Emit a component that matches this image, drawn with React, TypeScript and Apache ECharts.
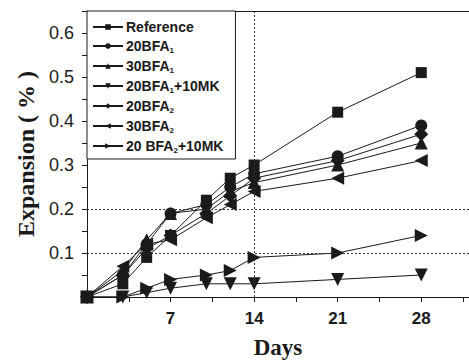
import React, { useEffect, useRef } from "react";
import * as echarts from "echarts";

const days = [0, 3, 5, 7, 10, 12, 14, 21, 28];
const reference = [0, 0.03, 0.09, 0.14, 0.22, 0.27, 0.3, 0.42, 0.51];
const bfa20_1 = [0, 0.05, 0.12, 0.19, 0.21, 0.25, 0.28, 0.32, 0.39];
const bfa30_1 = [0, 0.06, 0.13, 0.19, 0.2, 0.24, 0.26, 0.3, 0.35];
const bfa20_1mk = [0, 0, 0.01, 0.02, 0.03, 0.03, 0.03, 0.04, 0.05];
const bfa20_2 = [0, 0.05, 0.11, 0.14, 0.19, 0.23, 0.27, 0.31, 0.37];
const bfa30_2 = [0, 0.07, 0.12, 0.13, 0.18, 0.21, 0.24, 0.27, 0.31];
const bfa20_2mk = [0, 0, 0.02, 0.04, 0.05, 0.06, 0.09, 0.1, 0.14];

const seriesDefs = [
  { name: "Reference", data: reference, symbol: "rect", rotate: 0, size: 11 },
  { name: "20BFA{s|1}", data: bfa20_1, symbol: "circle", rotate: 0, size: 12 },
  { name: "30BFA{s|1}", data: bfa30_1, symbol: "triangle", rotate: 0, size: 13 },
  { name: "20BFA{s|1}+10MK", data: bfa20_1mk, symbol: "triangle", rotate: 180, size: 13 },
  { name: "20BFA{s|2}", data: bfa20_2, symbol: "diamond", rotate: 0, size: 14 },
  { name: "30BFA{s|2}", data: bfa30_2, symbol: "triangle", rotate: 90, size: 13 },
  { name: "20 BFA{s|2}+10MK", data: bfa20_2mk, symbol: "triangle", rotate: -90, size: 13 },
];

export default function App() {
  const ref = useRef<HTMLDivElement>(null);
  useEffect(() => {
    document.body.style.margin = "0";
    const chart = echarts.init(ref.current!, undefined, { renderer: "svg" });
    const ink = "#1a1a1a";
    const series: any[] = seriesDefs.map((s, i) => ({
      name: s.name,
      type: "line",
      data: s.data.map((v, j) => [days[j], v]),
      symbol: s.symbol,
      symbolRotate: s.rotate,
      symbolSize: s.size,
      itemStyle: { color: ink },
      lineStyle: { color: ink, width: 1 },
      z: 3,
      ...(i === 0
        ? {
            markLine: {
              silent: true,
              symbol: "none",
              label: { show: false },
              lineStyle: { type: [2, 2], color: "#333", width: 1 },
              data: [{ xAxis: 14 }, { yAxis: 0.2 }, { yAxis: 0.1 }],
            },
          }
        : {}),
    }));
    chart.setOption({
      animation: false,
      backgroundColor: "#fff",
      grid: { left: 87, top: 11, right: 0, bottom: 63, outerBoundsMode: "none" },
      legend: {
        orient: "vertical",
        left: 87,
        top: 11,
        backgroundColor: "#fff",
        borderColor: ink,
        borderWidth: 1,
        borderRadius: 0,
        padding: [9, 12, 5, 5],
        itemGap: 5,
        itemWidth: 30,
        itemHeight: 7,
        z: 10,
        textStyle: {
          fontFamily: "Liberation Sans, Arial",
          fontWeight: "bold",
          fontSize: 14,
          color: ink,
          padding: [0, 0, 0, -2],
          rich: {
            s: {
              fontFamily: "Liberation Sans, Arial",
              fontWeight: "bold",
              fontSize: 8,
              color: ink,
              padding: [8, 0, 0, 0],
            },
          },
        },
        data: seriesDefs.map((s) => s.name),
      },
      xAxis: [
        {
          type: "value",
          min: 0,
          max: 32,
          interval: 7,
          name: "Days",
          nameLocation: "middle",
          nameGap: 39,
          nameTextStyle: {
            fontFamily: "Liberation Serif, Times New Roman, serif",
            fontWeight: "bold",
            fontSize: 23,
            color: ink,
          },
          axisLine: { lineStyle: { color: ink, width: 1 } },
          axisTick: { length: 5, lineStyle: { color: ink } },
          minorTick: { show: true, splitNumber: 2, length: 5, lineStyle: { color: ink } },
          splitLine: { show: false },
          axisLabel: {
            margin: 13,
            fontFamily: "Liberation Sans, Arial",
            fontWeight: "bold",
            fontSize: 17,
            color: ink,
            formatter: (v: number) => (v > 0 && v % 7 === 0 ? String(v) : ""),
          },
        },
        {
          type: "value",
          position: "top",
          min: 0,
          max: 32,
          axisLine: { show: true, lineStyle: { color: ink, width: 1 } },
          axisTick: { show: false },
          axisLabel: { show: false },
          splitLine: { show: false },
        },
      ],
      yAxis: {
        type: "value",
        min: 0,
        max: 0.65,
        interval: 0.1,
        name: "Expansion ( % )",
        nameLocation: "middle",
        nameGap: 49,
        nameTextStyle: {
          fontFamily: "Liberation Serif, Times New Roman, serif",
          fontWeight: "bold",
          fontSize: 24,
          color: ink,
        },
        axisLine: { show: true, lineStyle: { color: ink, width: 1 } },
        axisTick: { length: 5, lineStyle: { color: ink } },
        minorTick: { show: true, splitNumber: 2, length: 5, lineStyle: { color: ink } },
        splitLine: { show: false },
        axisLabel: {
          margin: 13,
          fontFamily: "Liberation Sans, Arial",
          fontSize: 18,
          color: ink,
          formatter: (v: number) => (v > 0.001 && v < 0.61 ? v.toFixed(1) : ""),
        },
      },
      series,
    });
    return () => chart.dispose();
  }, []);
  return <div ref={ref} style={{ width: 469, height: 360 }} />;
}
